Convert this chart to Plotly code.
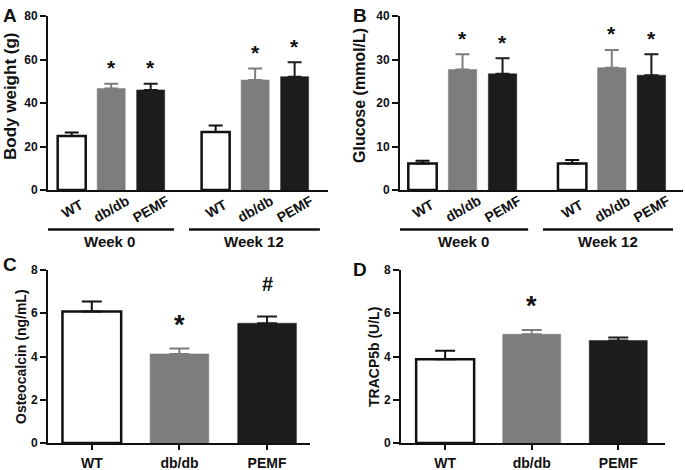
import plotly.graph_objects as go

# ---------------- data ----------------
groups = ["WT", "db/db", "PEMF"]
weeks = ["Week 0", "Week 12"]

# Panel A: body weight (g), [week 0, week 12]
bw_mean_wt = [24.8, 26.7]
bw_sd_wt = [1.6, 2.9]
bw_mean_db = [46.7, 50.6]
bw_sd_db = [2.2, 5.3]
bw_mean_pemf = [46.0, 52.1]
bw_sd_pemf = [2.8, 6.6]
bw_star = [[False, False], [True, True], [True, True]]

# Panel B: glucose (mmol/L), [week 0, week 12]
glu_mean_wt = [6.1, 6.1]
glu_sd_wt = [0.6, 0.8]
glu_mean_db = [27.7, 28.1]
glu_sd_db = [3.5, 4.1]
glu_mean_pemf = [26.7, 26.4]
glu_sd_pemf = [3.6, 4.8]
glu_star = [[False, False], [True, True], [True, True]]

# Panel C: osteocalcin (ng/mL)
oc_mean = [6.08, 4.12, 5.54]
oc_sd = [0.46, 0.25, 0.31]
oc_mark = ["", "*", "#"]

# Panel D: TRACP5b (U/L)
tr_mean = [3.87, 5.03, 4.74]
tr_sd = [0.40, 0.20, 0.14]
tr_mark = ["", "*", ""]

# ---------------- style ----------------
W, H = 685, 470
FONT = "Liberation Sans, Arial, Helvetica, sans-serif"
fills = ["#ffffff", "#7d7d7d", "#1c1c1c"]
lines = ["#111111", "#7d7d7d", "#1c1c1c"]
errc = ["#111111", "#7d7d7d", "#1c1c1c"]
linew = [2.5, 0.5, 0.5]


def px_x(a, b):
    return [a / W, b / W]


def px_y(top, bottom):
    return [(H - bottom) / H, (H - top) / H]


fig = go.Figure()

# group positions (axis units) for the two-week panels
posA = [[0, 3.645], [1, 4.645], [2, 5.645]]
posB = [[0, 3.74], [1, 4.73], [2, 5.72]]

annotations = []
shapes = []


def add_week_panel(means, sds, stars, pos, xr, yr, capw):
    for i, g in enumerate(groups):
        fig.add_trace(go.Bar(
            x=pos[i], y=means[i], width=0.71, xaxis=xr, yaxis=yr,
            marker=dict(color=fills[i], line=dict(color=lines[i], width=linew[i])),
            error_y=dict(type="data", symmetric=False, array=sds[i], arrayminus=[0, 0],
                         color=errc[i], thickness=2, width=capw),
            showlegend=False, hoverinfo="skip",
        ))
        for k in range(2):
            if stars[i][k]:
                annotations.append(dict(
                    x=pos[i][k], y=means[i][k] + sds[i][k], xref=xr, yref=yr,
                    text="*", showarrow=False, yanchor="middle", yshift=16,
                    font=dict(family=FONT, size=21, color="#111", weight="bold")))
            # rotated category labels
            annotations.append(dict(
                x=pos[i][k], y=(H - 208.5) / H, xref=xr, yref="paper",
                text=g, textangle=-30, showarrow=False, xanchor="center", yanchor="middle",
                font=dict(family=FONT, size=14, color="#111", weight="bold")))


add_week_panel([bw_mean_wt, bw_mean_db, bw_mean_pemf], [bw_sd_wt, bw_sd_db, bw_sd_pemf],
               bw_star, posA, "x", "y", 7)
add_week_panel([glu_mean_wt, glu_mean_db, glu_mean_pemf], [glu_sd_wt, glu_sd_db, glu_sd_pemf],
               glu_star, posB, "x2", "y2", 7)

# week underlines and labels
for pos, xr, pads in [(posA, "x", [(-0.675, 0.59), (-0.675, 0.64)]),
                      (posB, "x2", [(-0.61, 0.64), (-0.73, 0.54)])]:
    for k, wk in enumerate(weeks):
        x0 = pos[0][k] + pads[k][0]
        x1 = pos[2][k] + pads[k][1]
        shapes.append(dict(type="line", xref=xr, yref="paper", x0=x0, x1=x1,
                           y0=(H - 229.5) / H, y1=(H - 229.5) / H,
                           line=dict(color="#111", width=2.7)))
        annotations.append(dict(x=(x0 + x1) / 2, y=(H - 242) / H, xref=xr, yref="paper",
                                text=wk, showarrow=False, xanchor="center", yanchor="middle",
                                font=dict(family=FONT, size=15, color="#111", weight="bold")))

# Panels C and D
for means, sds, marks, xr, yr in [(oc_mean, oc_sd, oc_mark, "x3", "y3"),
                                   (tr_mean, tr_sd, tr_mark, "x4", "y4")]:
    for i, g in enumerate(groups):
        fig.add_trace(go.Bar(
            x=[i], y=[means[i]], width=0.67, xaxis=xr, yaxis=yr,
            marker=dict(color=fills[i], line=dict(color=lines[i], width=linew[i])),
            error_y=dict(type="data", symmetric=False, array=[sds[i]], arrayminus=[0],
                         color=errc[i], thickness=2, width=10),
            showlegend=False, hoverinfo="skip",
        ))
        if marks[i]:
            star = marks[i] == "*"
            annotations.append(dict(
                x=i, y=means[i] + sds[i], xref=xr, yref=yr,
                text=marks[i], showarrow=False, yanchor="middle",
                yshift=24 if star else 32,
                font=dict(family=FONT, size=27 if star else 20, color="#111", weight="bold")))

# axis titles and panel letters
titles = [("Body weight (g)", 10, 97, 17), ("Glucose (mmol/L)", 360, 96, 16),
          ("Osteocalcin (ng/mL)", 21, 357, 14), ("TRACP5b (U/L)", 374, 357, 14)]
for t, cx, cy, fs in titles:
    annotations.append(dict(x=cx / W, y=(H - cy) / H, xref="paper", yref="paper", text=t,
                            textangle=-90, showarrow=False, xanchor="center", yanchor="middle",
                            font=dict(family=FONT, size=fs, color="#111", weight="bold")))
for t, lx, ly in [("A", 1, 3), ("B", 351, 3), ("C", 1, 252), ("D", 351, 257)]:
    annotations.append(dict(x=lx / W, y=(H - ly) / H, xref="paper", yref="paper", text=t,
                            showarrow=False, xanchor="left", yanchor="top",
                            font=dict(family=FONT, size=19, color="#111", weight="bold")))

tickfont = dict(family=FONT, size=12, color="#111", weight="bold")
yax = dict(showline=True, linewidth=2, linecolor="#111", ticks="outside", ticklen=6, tickwidth=2,
           tickcolor="#111", showgrid=False, zeroline=False, tickfont=tickfont, fixedrange=True,
           automargin=False)
xax_week = dict(showline=True, linewidth=2, linecolor="#111", ticks="", showticklabels=False,
                showgrid=False, zeroline=False, automargin=False, fixedrange=True)
xax_cat = dict(showline=True, linewidth=2, linecolor="#111", ticks="outside", ticklen=5,
               tickwidth=2, tickcolor="#111", showgrid=False, zeroline=False,
               tickvals=[0, 1, 2], ticktext=groups, ticklabelstandoff=1, automargin=False,
               fixedrange=True,
               tickfont=dict(family=FONT, size=14, color="#111", weight="bold"))

fig.update_layout(
    width=W, height=H, margin=dict(l=0, r=0, t=0, b=0, pad=0), autosize=False,
    paper_bgcolor="white", plot_bgcolor="white", barmode="overlay",
    xaxis=dict(xax_week, domain=px_x(48, 328), range=[-0.60, 6.49], anchor="y"),
    yaxis=dict(yax, domain=px_y(16, 190), range=[0, 80], tickvals=[0, 20, 40, 60, 80], anchor="x"),
    xaxis2=dict(xax_week, domain=px_x(400, 683), range=[-0.5625, 6.51], anchor="y2"),
    yaxis2=dict(yax, domain=px_y(16, 190), range=[0, 40], tickvals=[0, 10, 20, 30, 40], anchor="x2"),
    xaxis3=dict(xax_cat, domain=px_x(48, 310), range=[-0.5, 2.49], anchor="y3"),
    yaxis3=dict(yax, domain=px_y(270, 443), range=[0, 8], tickvals=[0, 2, 4, 6, 8], anchor="x3"),
    xaxis4=dict(xax_cat, domain=px_x(401, 665), range=[-0.51, 2.54], anchor="y4"),
    yaxis4=dict(yax, domain=px_y(270, 443), range=[0, 8], tickvals=[0, 2, 4, 6, 8], anchor="x4"),
    annotations=annotations, shapes=shapes,
)

fig.write_html("out.html", config={"displayModeBar": False, "staticPlot": True},
               post_script="document.body.style.margin='0px';document.body.style.overflow='hidden';")
